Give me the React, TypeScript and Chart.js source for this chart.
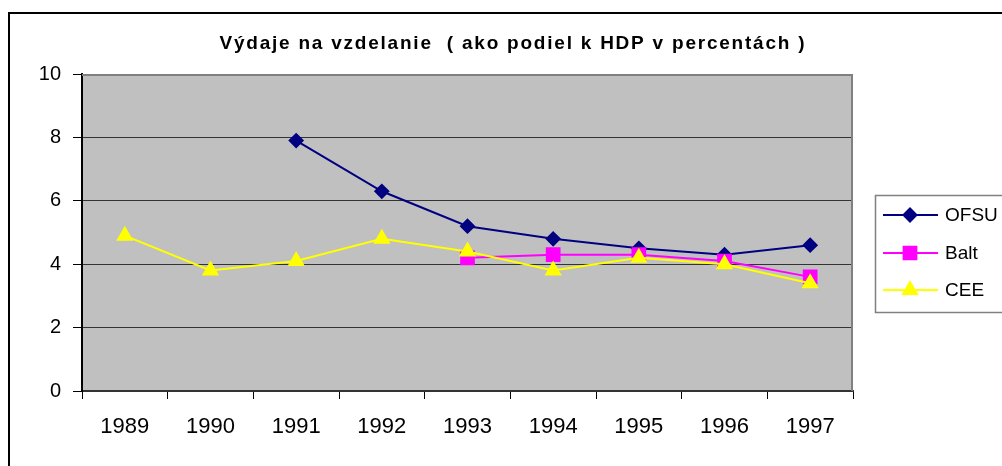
import React, { useEffect, useRef } from 'react';
import { Chart, registerables } from 'chart.js';
import { drawPoint } from 'chart.js/helpers';

Chart.register(...registerables);

const categories = ['1989', '1990', '1991', '1992', '1993', '1994', '1995', '1996', '1997'];
const ofsuValues = [null, null, 7.9, 6.3, 5.2, 4.8, 4.5, 4.3, 4.6];
const baltValues = [null, null, null, null, 4.2, 4.3, 4.3, 4.1, 3.6];
const ceeValues = [4.9, 3.8, 4.1, 4.8, 4.4, 3.8, 4.2, 4.0, 3.4];
const seriesNames = ['OFSU', 'Balt', 'CEE'];
const yMin = 0;
const yMax = 10;
const yStep = 2;
const titleText = 'Výdaje na vzdelanie  ( ako podiel k HDP v percentách )';

const FONT = '"Liberation Sans", Arial, sans-serif';

const frame = {
  id: 'frame',
  beforeDraw(chart: any) {
    const { ctx, chartArea: a } = chart;
    ctx.save();
    ctx.fillStyle = '#ffffff';
    ctx.fillRect(0, 0, chart.width, chart.height);
    ctx.fillStyle = '#000000';
    ctx.fillRect(8, 12, 2, chart.height);
    ctx.fillRect(8, 12, chart.width, 2);
    ctx.fillStyle = '#c0c0c0';
    ctx.fillRect(a.left, a.top, a.right - a.left, a.bottom - a.top);
    ctx.restore();
  },
  beforeDatasetsDraw(chart: any) {
    const { ctx, chartArea: a } = chart;
    ctx.save();
    ctx.strokeStyle = '#808080';
    ctx.lineWidth = 2;
    ctx.beginPath();
    ctx.moveTo(a.left, a.top + 1);
    ctx.lineTo(a.right - 1, a.top + 1);
    ctx.lineTo(a.right - 1, a.bottom);
    ctx.stroke();
    ctx.restore();
  },
  afterDraw(chart: any) {
    const { ctx } = chart;
    ctx.save();
    ctx.font = `bold 19px ${FONT}`;
    ctx.fillStyle = '#000000';
    ctx.textBaseline = 'middle';
    ctx.textAlign = 'left';
    (ctx as any).letterSpacing = '0px';
    const natural = ctx.measureText(titleText).width;
    const target = 585;
    const sp = (target - natural) / (titleText.length - 1);
    (ctx as any).letterSpacing = `${sp}px`;
    ctx.fillText(titleText, 512 - target / 2, 44);
    (ctx as any).letterSpacing = '0px';

    ctx.strokeStyle = '#808080';
    ctx.lineWidth = 1.5;
    ctx.fillStyle = '#ffffff';
    ctx.fillRect(875, 195, 200, 117);
    ctx.strokeRect(875.5, 195.5, 200, 117);
    const rows = [215, 253, 290];
    chart.data.datasets.forEach((ds: any, i: number) => {
      const y = rows[i];
      ctx.strokeStyle = ds.borderColor;
      ctx.lineWidth = 2;
      ctx.beginPath();
      ctx.moveTo(883, y);
      ctx.lineTo(938, y);
      ctx.stroke();
      ctx.fillStyle = ds.pointBackgroundColor;
      ctx.strokeStyle = ds.pointBorderColor;
      drawPoint(ctx, { pointStyle: ds.pointStyle, radius: ds.pointRadius, borderWidth: 1, rotation: 0 }, 910, y);
      ctx.fillStyle = '#000000';
      ctx.font = `19px ${FONT}`;
      ctx.textBaseline = 'middle';
      ctx.fillText(ds.label, 945, y + 1);
    });
    ctx.restore();
  },
};

export default function App() {
  const ref = useRef<HTMLCanvasElement | null>(null);
  useEffect(() => {
    if (!ref.current) return;
    const chart = new Chart(ref.current, {
      type: 'line',
      data: {
        labels: categories,
        datasets: [
          {
            label: seriesNames[0],
            data: ofsuValues,
            borderColor: '#000080',
            backgroundColor: '#000080',
            pointBackgroundColor: '#000080',
            pointBorderColor: '#000080',
            pointStyle: 'rectRot',
            pointRadius: 6.5,
            borderWidth: 2,
            order: 2,
          },
          {
            label: seriesNames[1],
            data: baltValues,
            borderColor: '#ff00ff',
            backgroundColor: '#ff00ff',
            pointBackgroundColor: '#ff00ff',
            pointBorderColor: '#ff00ff',
            pointStyle: 'rect',
            pointRadius: 9,
            borderWidth: 2,
            order: 1,
          },
          {
            label: seriesNames[2],
            data: ceeValues,
            borderColor: '#ffff00',
            backgroundColor: '#ffff00',
            pointBackgroundColor: '#ffff00',
            pointBorderColor: '#ffff00',
            pointStyle: 'triangle',
            pointRadius: 8,
            borderWidth: 2,
            order: 0,
          },
        ] as any,
      },
      options: {
        animation: false,
        responsive: false,
        maintainAspectRatio: false,
        layout: { padding: { left: 0, top: 74, right: 149, bottom: 0 } },
        plugins: {
          legend: { display: false },
          title: { display: false },
          tooltip: { enabled: false },
        },
        elements: { line: { tension: 0 } },
        scales: {
          x: {
            type: 'category',
            offset: true,
            grid: {
              offset: true,
              drawOnChartArea: false,
              drawTicks: true,
              tickLength: 8,
              tickColor: '#000000',
              tickWidth: 1,
            },
            border: { display: true, color: '#333333', width: 2 },
            ticks: {
              color: '#000000',
              font: { family: FONT, size: 22 },
              padding: 15,
              maxRotation: 0,
              autoSkip: false,
            },
            afterFit: (s: any) => {
              s.height = 75;
            },
          },
          y: {
            min: yMin,
            max: yMax,
            ticks: {
              stepSize: yStep,
              color: '#000000',
              font: { family: FONT, size: 20 },
              padding: 12,
            },
            grid: {
              color: (c: any) => (c.tick && (c.tick.value === yMax || c.tick.value === yMin) ? 'rgba(0,0,0,0)' : '#333333'),
              lineWidth: 1,
              drawTicks: true,
              tickLength: 9,
              tickColor: '#000000',
              tickWidth: 1,
            },
            border: { display: true, color: '#000000', width: 2 },
            afterFit: (s: any) => {
              s.width = 82;
            },
          },
        },
      },
      plugins: [frame],
    });
    return () => chart.destroy();
  }, []);

  return (
    <div style={{ position: 'fixed', left: 0, top: 0, width: 1002, height: 466, background: '#fff' }}>
      <canvas ref={ref} width={1002} height={466} style={{ display: 'block', width: 1002, height: 466 }} />
    </div>
  );
}
